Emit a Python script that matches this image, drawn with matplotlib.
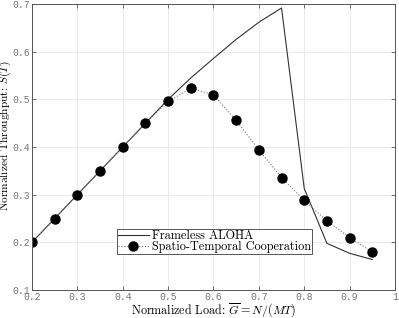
import numpy as np
import matplotlib
matplotlib.use("Agg")
from matplotlib import pyplot as plt

plt.rcParams['mathtext.fontset'] = 'cm'

load = [0.2, 0.25, 0.3, 0.35, 0.4, 0.45, 0.5, 0.55, 0.6, 0.65, 0.7, 0.75, 0.8, 0.85, 0.9, 0.95]
frameless = [0.2, 0.25, 0.3, 0.35, 0.4, 0.45, 0.5, 0.545, 0.586, 0.626, 0.662, 0.692, 0.313, 0.198, 0.177, 0.164]
spatio = [0.2, 0.25, 0.3, 0.35, 0.4, 0.45, 0.496, 0.523, 0.51, 0.456, 0.394, 0.336, 0.288, 0.245, 0.21, 0.18]

fig = plt.figure(figsize=(3.99, 3.18), dpi=100)
ax = fig.add_axes([0.080, 0.088, 0.910, 0.899])

ax.plot(load, frameless, color='#333333', lw=0.8, label='Frameless ALOHA')
ax.plot(load, spatio, color='#777777', lw=0.8, ls=':', marker='o', markersize=6.5,
        markerfacecolor='black', markeredgecolor='black',
        label='Spatio-Temporal Cooperation')

ax.set_xlim(0.2, 1.0)
ax.set_ylim(0.1, 0.7)
ax.set_xticks(np.arange(0.2, 1.01, 0.1))
ax.set_yticks(np.arange(0.1, 0.71, 0.1))
ax.set_xticklabels(['0.2', '0.3', '0.4', '0.5', '0.6', '0.7', '0.8', '0.9', '1'])
ax.set_yticklabels(['0.1', '0.2', '0.3', '0.4', '0.5', '0.6', '0.7'])
for lab in ax.get_xticklabels() + ax.get_yticklabels():
    lab.set_family('Liberation Mono')
    lab.set_fontsize(7)
    lab.set_color('#777777')
ax.tick_params(direction='in', top=True, right=True, length=3, width=0.6, color='#555555', pad=1.5)
ax.grid(True, color='#e6e6e6', lw=0.6)
ax.set_axisbelow(True)
for s in ax.spines.values():
    s.set_color('#555555')
    s.set_linewidth(0.7)

ax.set_xlabel(r'Normalized Load: $\overline{G} = N/(MT)$', family='cmr10', fontsize=8.7)
ax.set_ylabel(r'Normalized Throughput: $S(T)$', family='cmr10', fontsize=8.2)
ax.xaxis.set_label_coords(0.5, -0.04)
ax.yaxis.set_label_coords(-0.051, 0.54)

leg = ax.legend(loc='lower left', bbox_to_anchor=(0.234, 0.125), prop={'family': 'cmr10', 'size': 8.8},
                fancybox=False, framealpha=1, edgecolor='#555555', borderpad=0.1, labelspacing=-0.1,
                handlelength=2.5, handletextpad=0.25, borderaxespad=0)
leg.get_frame().set_linewidth(0.7)

fig.savefig('out.png', dpi=100)
